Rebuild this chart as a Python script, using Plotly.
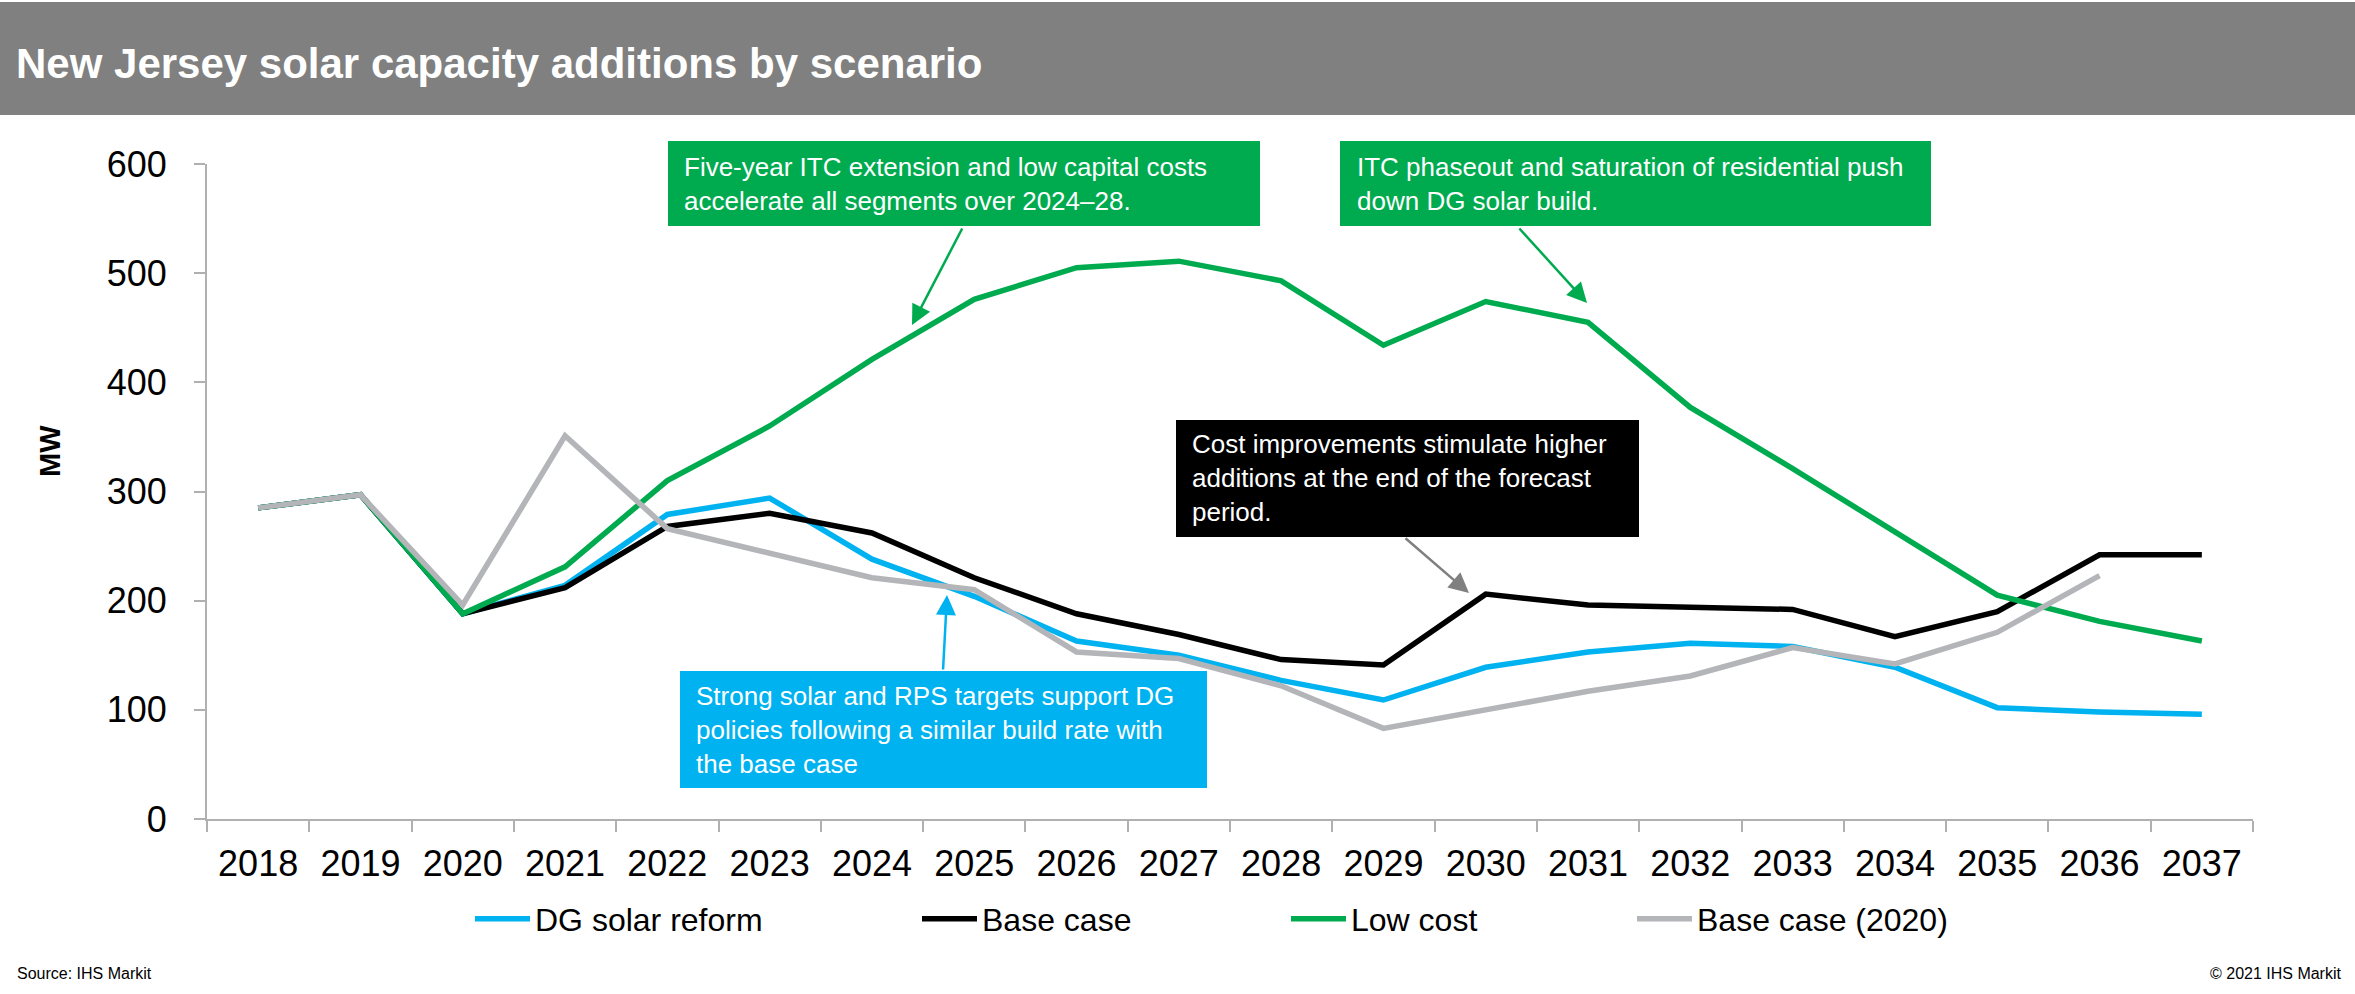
import plotly.graph_objects as go

# Scenario years and annual solar capacity additions (MW)
years = ["2018", "2019", "2020", "2021", "2022", "2023", "2024", "2025", "2026", "2027",
         "2028", "2029", "2030", "2031", "2032", "2033", "2034", "2035", "2036", "2037"]
dg_solar_reform = [285, 297, 188, 214, 279, 294, 238, 204, 163, 150,
                   127, 109, 139, 153, 161, 158, 139, 102, 98, 96]
base_case = [285, 297, 188, 212, 268, 280, 262, 221, 188, 169,
             146, 141, 206, 196, 194, 192, 167, 190, 242, 242]
low_cost = [285, 297, 188, 231, 310, 360, 421, 476, 505, 511,
            493, 434, 474, 455, 377, 321, 263, 205, 181, 163]
base_case_2020 = [285, 297, 196, 351, 266, 243, 221, 210, 153, 147,
                  122, 83, 100, 117, 131, 157, 142, 171, 223, None]

y_ticks = [0, 100, 200, 300, 400, 500, 600]

W, H = 2355, 994
L, R, T, B = 207, 2253, 164, 819
FONT = "Liberation Sans, Arial, sans-serif"

BLUE = "#00B2EF"
BLACK = "#000000"
GREEN = "#00AB4F"
GRAY = "#B3B5B8"
BAR = "#7F807F"


def fx(px):
    return (px - L) / (R - L)


def fy(py):
    return (B - py) / (B - T)


fig = go.Figure()
series = [
    ("DG solar reform", dg_solar_reform, BLUE, "legend"),
    ("Base case", base_case, BLACK, "legend2"),
    ("Low cost", low_cost, GREEN, "legend3"),
    ("Base case (2020)", base_case_2020, GRAY, "legend4"),
]
for name, vals, color, lg in series:
    fig.add_trace(go.Scatter(
        x=years, y=vals, name=name, mode="lines",
        line=dict(color=color, width=5.5),
        legend=lg, showlegend=True,
    ))

# legend entries laid out in a single row under the axis
legend_text_x = [535, 982, 1351, 1697]
legend_common = dict(
    orientation="h", xanchor="left", yanchor="middle",
    y=fy(919), xref="paper", yref="paper",
    font=dict(family=FONT, size=32, color="black"),
    bgcolor="rgba(0,0,0,0)", borderwidth=0, itemwidth=55,
)
legends = {}
for i, tx in enumerate(legend_text_x):
    key = "legend" if i == 0 else f"legend{i + 1}"
    legends[key] = dict(legend_common, x=fx(tx - 65))

shapes = [
    # header bar
    dict(type="rect", xref="paper", yref="paper",
         x0=fx(0), x1=fx(W), y0=fy(115), y1=fy(2),
         fillcolor=BAR, line=dict(width=0), layer="above"),
    # callout boxes
    dict(type="rect", xref="paper", yref="paper",
         x0=fx(668), x1=fx(1260), y0=fy(226), y1=fy(141),
         fillcolor=GREEN, line=dict(width=0)),
    dict(type="rect", xref="paper", yref="paper",
         x0=fx(1340), x1=fx(1931), y0=fy(226), y1=fy(141),
         fillcolor=GREEN, line=dict(width=0)),
    dict(type="rect", xref="paper", yref="paper",
         x0=fx(1176), x1=fx(1639), y0=fy(537), y1=fy(420),
         fillcolor=BLACK, line=dict(width=0)),
    dict(type="rect", xref="paper", yref="paper",
         x0=fx(680), x1=fx(1207), y0=fy(788), y1=fy(671),
         fillcolor=BLUE, line=dict(width=0)),
]

annotations = [
    dict(text="<b>New Jersey solar capacity additions by scenario</b>",
         x=fx(14), y=fy(64), xanchor="left", yanchor="middle",
         font=dict(family=FONT, size=42, color="white")),
    dict(text="<b>MW</b>", textangle=-90,
         x=fx(50), y=fy(451), xanchor="center", yanchor="middle",
         font=dict(family=FONT, size=29, color="black")),
    dict(text="Source: IHS Markit",
         x=fx(15), y=fy(973), xanchor="left", yanchor="middle",
         font=dict(family=FONT, size=16, color="black")),
    dict(text="© 2021 IHS Markit",
         x=fx(2344), y=fy(973), xanchor="right", yanchor="middle",
         font=dict(family=FONT, size=16, color="black")),
    dict(text="Five-year ITC extension and low capital costs<br>accelerate all segments over 2024–28.",
         x=fx(682), y=fy(183.5), xanchor="left", yanchor="middle", align="left",
         font=dict(family=FONT, size=26, color="white")),
    dict(text="ITC phaseout and saturation of residential push<br>down DG solar build.",
         x=fx(1355), y=fy(183.5), xanchor="left", yanchor="middle", align="left",
         font=dict(family=FONT, size=26, color="white")),
    dict(text="Cost improvements stimulate higher<br>additions at the end of the forecast<br>period.",
         x=fx(1190), y=fy(478), xanchor="left", yanchor="middle", align="left",
         font=dict(family=FONT, size=26, color="white")),
    dict(text="Strong solar and RPS targets support DG<br>policies following a similar build rate with<br>the base case",
         x=fx(694), y=fy(729.5), xanchor="left", yanchor="middle", align="left",
         font=dict(family=FONT, size=26, color="white")),
]

# callout arrows: (tip x, tip y, tail x, tail y, colour) in page pixels
arrows = [
    (912, 325, 963, 227, GREEN),
    (1587, 303, 1518, 227, GREEN),
    (1469, 593, 1404, 537, "#808080"),
    (947, 595, 943, 671, BLUE),
]
for tipx, tipy, tailx, taily, col in arrows:
    annotations.append(dict(
        text="", x=fx(tipx), y=fy(tipy), xref="paper", yref="paper",
        showarrow=True, axref="pixel", ayref="pixel",
        ax=tailx - tipx, ay=taily - tipy,
        arrowhead=2, arrowsize=1.6, arrowwidth=2.5, arrowcolor=col,
        standoff=0, startstandoff=0,
    ))

for a in annotations:
    a.setdefault("xref", "paper")
    a.setdefault("yref", "paper")
    a.setdefault("showarrow", False)

fig.update_layout(
    width=W, height=H,
    margin=dict(l=L, r=W - R, t=T, b=H - B),
    paper_bgcolor="white", plot_bgcolor="white",
    font=dict(family=FONT, color="black"),
    shapes=shapes, annotations=annotations,
    **legends,
)
fig.update_xaxes(
    type="category", categoryorder="array", categoryarray=years,
    range=[-0.5, len(years) - 0.5],
    showgrid=False, zeroline=False,
    showline=True, linecolor="#B0B0B0", linewidth=2,
    ticks="outside", tickson="boundaries", ticklen=11, tickwidth=1.5, tickcolor="#B0B0B0",
    tickfont=dict(family=FONT, size=36, color="black"),
    ticklabelstandoff=12,
)
fig.update_yaxes(
    range=[0, 600], tickvals=y_ticks, ticktext=[str(v) for v in y_ticks],
    showgrid=False, zeroline=False,
    showline=True, linecolor="#B0B0B0", linewidth=2,
    ticks="outside", ticklen=11, tickwidth=1.5, tickcolor="#B0B0B0",
    tickfont=dict(family=FONT, size=36, color="black"),
    ticklabelstandoff=20,
)

fig.write_html("out.html")
